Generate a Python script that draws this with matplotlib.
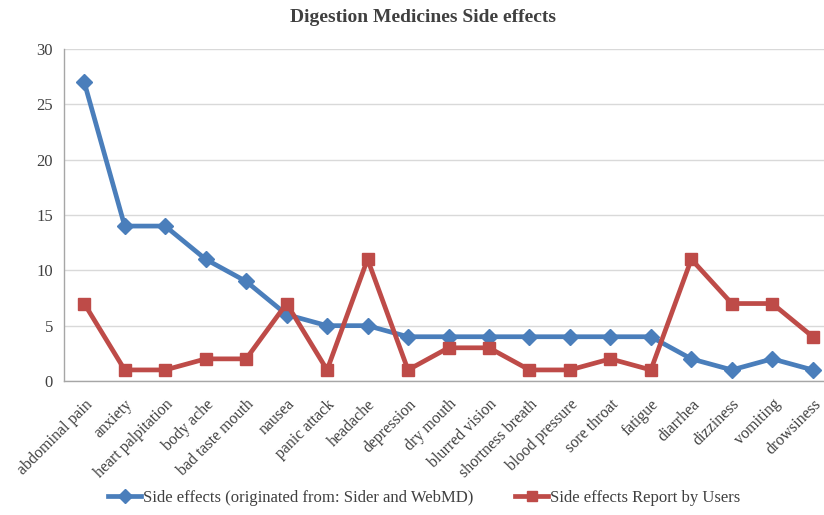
import matplotlib
matplotlib.use("Agg")
import matplotlib.pyplot as plt
from matplotlib.lines import Line2D

categories = ["abdominal pain", "anxiety", "heart palpitation", "body ache",
              "bad taste mouth", "nausea", "panic attack", "headache",
              "depression", "dry mouth", "blurred vision", "shortness breath",
              "blood pressure", "sore throat", "fatigue", "diarrhea",
              "dizziness", "vomiting", "drowsiness"]
sider_webmd = [27, 14, 14, 11, 9, 6, 5, 5, 4, 4, 4, 4, 4, 4, 4, 2, 1, 2, 1]
user_reports = [7, 1, 1, 2, 2, 7, 1, 11, 1, 3, 3, 1, 1, 2, 1, 11, 7, 7, 4]
y_ticks = [0, 5, 10, 15, 20, 25, 30]

BLUE = "#4A7EBB"
RED = "#BE4B48"
TEXT = "#404040"

plt.rcParams["font.family"] = ["Liberation Serif", "DejaVu Serif"]

fig = plt.figure(figsize=(8.24, 5.15), dpi=100)
ax = fig.add_axes([64 / 824, 1 - 381 / 515, (833 - 64) / 824, (381 - 49) / 515])

x = list(range(len(categories)))
ax.plot(x, sider_webmd, color=BLUE, lw=3.4, marker="D", ms=8,
        markeredgecolor=BLUE, zorder=3, solid_joinstyle="round")
ax.plot(x, user_reports, color=RED, lw=3.4, marker="s", ms=8.5,
        markeredgecolor=RED, zorder=3, solid_joinstyle="round")

ax.set_xlim(-0.5, len(categories) - 0.5)
ax.set_ylim(0, 30)
ax.set_yticks(y_ticks)
ax.set_yticklabels([str(v) for v in y_ticks], fontsize=12, color=TEXT)
ax.set_xticks(x)
ax.set_xticklabels(categories, rotation=45, ha="right", rotation_mode="anchor",
                   fontsize=11.5, color=TEXT)
ax.tick_params(axis="both", length=0, pad=8)
ax.tick_params(axis="x", pad=11)

ax.grid(axis="y", color="#D9D9D9", lw=1)
ax.set_axisbelow(True)
for side in ["top", "right"]:
    ax.spines[side].set_visible(False)
for side in ["left", "bottom"]:
    ax.spines[side].set_color("#A6A6A6")
    ax.spines[side].set_linewidth(1)

fig.text(423 / 824, 1 - 18 / 515, "Digestion Medicines Side effects",
         ha="center", va="center", fontsize=14, fontweight="bold", color=TEXT)

handles = [
    Line2D([0], [0], color=BLUE, lw=3.4, marker="D", ms=7),
    Line2D([0], [0], color=RED, lw=3.4, marker="s", ms=7.5),
]
labels = ["Side effects (originated from: Sider and WebMD)",
          "Side effects Report by Users"]
leg = fig.legend(handles, labels, loc="center", bbox_to_anchor=(424 / 824, 1 - 498 / 515),
                 ncol=2, frameon=False, fontsize=12, handlelength=2.0,
                 handletextpad=0.1, columnspacing=2.5)
for t in leg.get_texts():
    t.set_color(TEXT)

fig.savefig("out.png", dpi=100)
